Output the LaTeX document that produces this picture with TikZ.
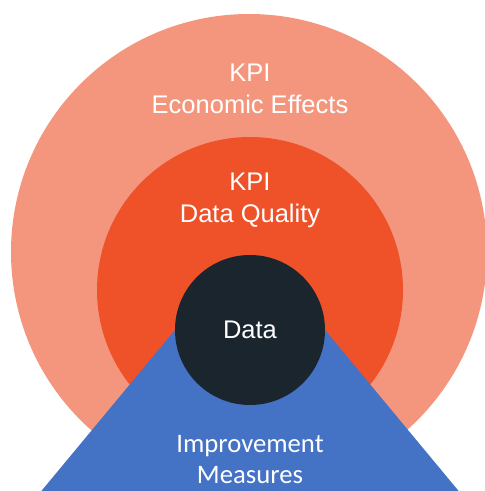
\documentclass[tikz,border=0pt]{standalone}
\usepackage{fontspec}
\setmainfont{Liberation Sans}
\newfontfamily\calfont{Carlito}
\definecolor{outerc}{HTML}{F4967D}
\definecolor{midc}{HTML}{EF5129}
\definecolor{darkc}{HTML}{1A252E}
\definecolor{bluec}{HTML}{4472C4}
\begin{document}
\begin{tikzpicture}[x=1pt,y=-1pt,
  lbl/.style={text=white,align=center,font=\fontsize{25.5}{32}\selectfont},
  clbl/.style={text=white,align=center,font=\calfont\fontsize{26.7}{31}\selectfont}]
\useasboundingbox (0,0) rectangle (485,491);
\clip (0,0) rectangle (485,491);
\fill[outerc] (249,252) circle[radius=238];
\fill[midc] (250,290) circle[radius=153];
\fill[bluec] (199.9,300) -- (300.1,300) -- (535,583) -- (-35,583) -- cycle;
\fill[darkc] (250,330) circle[radius=75];
\node[lbl] (econ) at (250,89) {KPI\\Economic Effects};
\node[lbl] (qual) at (250,200) {KPI\\Data Quality};
\node[lbl] (data) at (250,330) {Data};
\node[clbl] (impr) at (250,460) {Improvement\\Measures};
\end{tikzpicture}
\end{document}
